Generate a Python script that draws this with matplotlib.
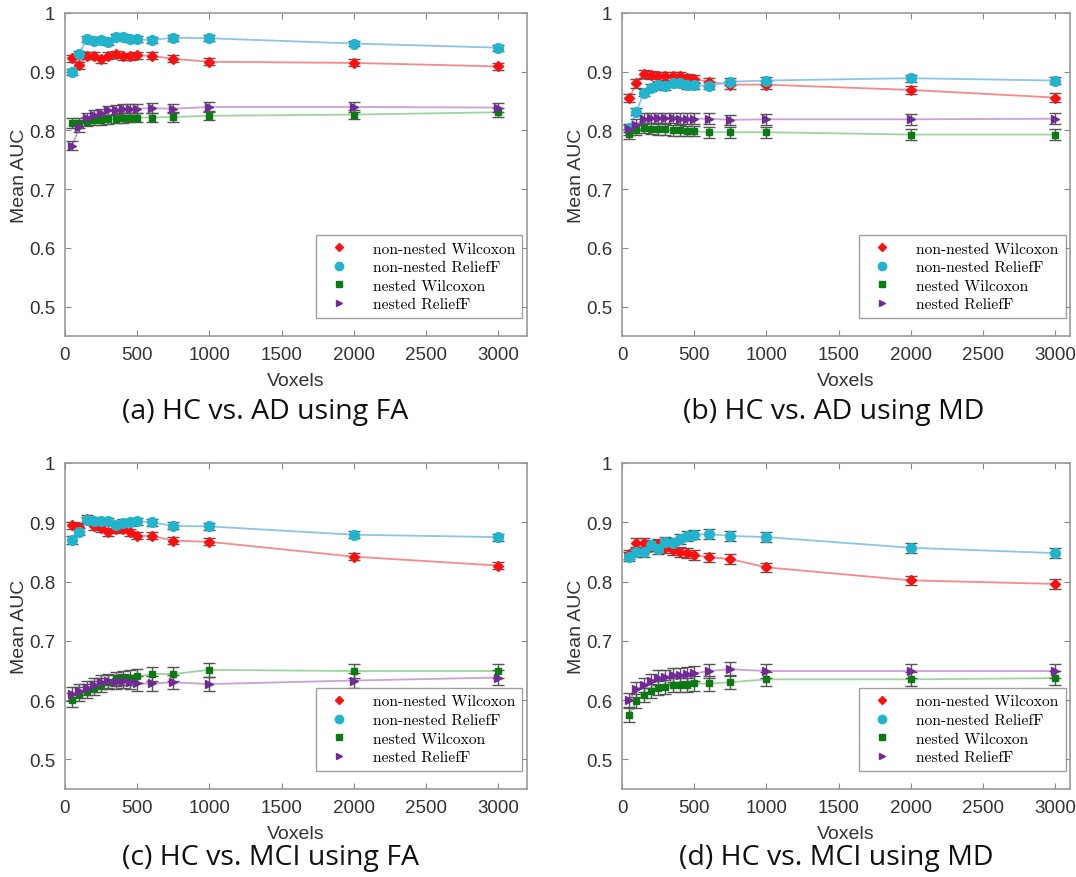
import numpy as np
import matplotlib.pyplot as plt
from matplotlib.lines import Line2D

voxels = [50, 100, 150, 200, 250, 300, 350, 400, 450, 500, 600, 750, 1000, 2000, 3000]

# (a) HC vs AD, FA
a_nn_wil = [0.923, 0.911, 0.927, 0.927, 0.921, 0.927, 0.930, 0.926, 0.926, 0.928, 0.927, 0.922, 0.917, 0.915, 0.909]
a_nn_rel = [0.900, 0.931, 0.956, 0.952, 0.954, 0.950, 0.959, 0.959, 0.956, 0.955, 0.954, 0.958, 0.957, 0.948, 0.941]
a_n_wil = [0.813, 0.813, 0.815, 0.817, 0.817, 0.819, 0.820, 0.821, 0.822, 0.822, 0.822, 0.823, 0.825, 0.827, 0.831]
a_n_rel = [0.774, 0.806, 0.821, 0.826, 0.829, 0.834, 0.835, 0.837, 0.837, 0.837, 0.838, 0.837, 0.840, 0.840, 0.839]

# (b) HC vs AD, MD
b_nn_wil = [0.855, 0.880, 0.896, 0.895, 0.892, 0.893, 0.892, 0.892, 0.889, 0.888, 0.883, 0.878, 0.878, 0.869, 0.856]
b_nn_rel = [0.804, 0.832, 0.864, 0.873, 0.877, 0.875, 0.880, 0.880, 0.877, 0.877, 0.876, 0.883, 0.885, 0.889, 0.885]
b_n_wil = [0.794, 0.801, 0.804, 0.803, 0.802, 0.802, 0.800, 0.800, 0.799, 0.799, 0.797, 0.797, 0.797, 0.793, 0.793]
b_n_rel = [0.802, 0.810, 0.820, 0.821, 0.821, 0.821, 0.821, 0.820, 0.820, 0.820, 0.820, 0.818, 0.819, 0.819, 0.820]

# (c) HC vs MCI, FA
c_nn_wil = [0.895, 0.892, 0.906, 0.893, 0.890, 0.883, 0.888, 0.889, 0.883, 0.877, 0.877, 0.869, 0.867, 0.842, 0.827]
c_nn_rel = [0.870, 0.884, 0.903, 0.902, 0.902, 0.902, 0.896, 0.899, 0.900, 0.902, 0.900, 0.894, 0.893, 0.879, 0.875]
c_n_wil = [0.600, 0.610, 0.615, 0.620, 0.625, 0.630, 0.635, 0.637, 0.638, 0.640, 0.644, 0.644, 0.651, 0.649, 0.649]
c_n_rel = [0.610, 0.615, 0.620, 0.625, 0.630, 0.632, 0.630, 0.632, 0.630, 0.628, 0.628, 0.630, 0.627, 0.633, 0.638]

# (d) HC vs MCI, MD
d_nn_wil = [0.846, 0.865, 0.865, 0.859, 0.863, 0.857, 0.853, 0.850, 0.848, 0.845, 0.841, 0.838, 0.824, 0.802, 0.796]
d_nn_rel = [0.842, 0.850, 0.850, 0.862, 0.855, 0.867, 0.865, 0.872, 0.877, 0.879, 0.880, 0.877, 0.875, 0.857, 0.848]
d_n_wil = [0.575, 0.598, 0.608, 0.615, 0.620, 0.622, 0.625, 0.625, 0.626, 0.628, 0.628, 0.630, 0.635, 0.635, 0.637]
d_n_rel = [0.600, 0.618, 0.625, 0.632, 0.638, 0.639, 0.642, 0.642, 0.644, 0.645, 0.649, 0.652, 0.649, 0.649, 0.649]

# error bar half-widths per series (red, cyan, green, purple)
errs = {'a': [0.006, 0.005, 0.008, 0.008],
        'b': [0.007, 0.006, 0.009, 0.009],
        'c': [0.006, 0.006, 0.012, 0.012],
        'd': [0.008, 0.008, 0.012, 0.012]}

labels = ['non-nested Wilcoxon', 'non-nested ReliefF', 'nested Wilcoxon', 'nested ReliefF']
captions = ['(a) HC vs. AD using FA', '(b) HC vs. AD using MD',
            '(c) HC vs. MCI using FA', '(d) HC vs. MCI using MD']

mcol = ['#ff1010', '#22b4cc', '#0a7a12', '#742a96']
lcol = ['#f58a8a', '#8cc4e8', '#9fd49f', '#c9a2d8']
markers = ['D', 'o', 's', '>']
msizes = [5, 7, 5, 6]

panels = {'a': [a_nn_wil, a_nn_rel, a_n_wil, a_n_rel],
          'b': [b_nn_wil, b_nn_rel, b_n_wil, b_n_rel],
          'c': [c_nn_wil, c_nn_rel, c_n_wil, c_n_rel],
          'd': [d_nn_wil, d_nn_rel, d_n_wil, d_n_rel]}

W, H = 1076, 878
# pixel boxes: left, right, top, bottom
boxes = {'a': (65, 527, 14, 337), 'b': (622, 1070, 14, 337),
         'c': (65, 527, 464, 790), 'd': (622, 1070, 464, 790)}
cap_pos = {'a': (265, 412), 'b': (834, 412), 'c': (271, 858), 'd': (836, 858)}

fig = plt.figure(figsize=(W / 100, H / 100), dpi=100)
plt.rcParams['font.family'] = ['Liberation Sans', 'DejaVu Sans']

for i, key in enumerate(['a', 'b', 'c', 'd']):
    l, r, t, b = boxes[key]
    ax = fig.add_axes([l / W, 1 - b / H, (r - l) / W, (b - t) / H])
    for j in range(4):
        y = panels[key][j]
        ax.plot(voxels, y, '-', color=lcol[j], lw=1.3, zorder=2)
        ax.errorbar(voxels, y, yerr=errs[key][j], fmt=markers[j], color=mcol[j],
                    ms=msizes[j], mec=mcol[j], ecolor='#555555', elinewidth=1,
                    capsize=4, capthick=1, zorder=3)
    xmax = 3000 * (r - l) / 433.0
    ax.set_xlim(0, xmax)
    ax.set_ylim(0.45, 1.0)
    ax.set_xticks([0, 500, 1000, 1500, 2000, 2500, 3000])
    ax.set_yticks([0.5, 0.6, 0.7, 0.8, 0.9, 1.0])
    ax.set_yticklabels(['0.5', '0.6', '0.7', '0.8', '0.9', '1'])
    ax.tick_params(direction='in', top=True, right=True, length=4, width=0.8,
                   color='#888888', labelsize=13.5, labelcolor='#333333', pad=7)
    for s in ax.spines.values():
        s.set_color('#999999')
        s.set_linewidth(1.2)
    ax.set_xlabel('Voxels', fontsize=14, color='#333333', labelpad=7)
    ax.set_ylabel('Mean AUC', fontsize=14, color='#333333', labelpad=1)

    handles = [Line2D([], [], ls='none', marker=markers[j], color=mcol[j],
                      ms=msizes[j] - 1) for j in range(4)]
    leg = ax.legend(handles, labels, loc='lower right', prop={'family': 'cmr10', 'size': 11.2},
                    frameon=True, fancybox=False, edgecolor='#888888', borderpad=0.45,
                    labelspacing=0.3, handletextpad=1.2, borderaxespad=0,
                    bbox_to_anchor=(0.99, 0.055))
    leg.get_frame().set_linewidth(1.0)

    cx, cy = cap_pos[key]
    fig.text(cx / W, 1 - cy / H, captions[i], ha='center', va='center',
             fontsize=20.5, family=['Open Sans', 'DejaVu Sans'], color='#111111')

plt.savefig('out.png', dpi=100)
